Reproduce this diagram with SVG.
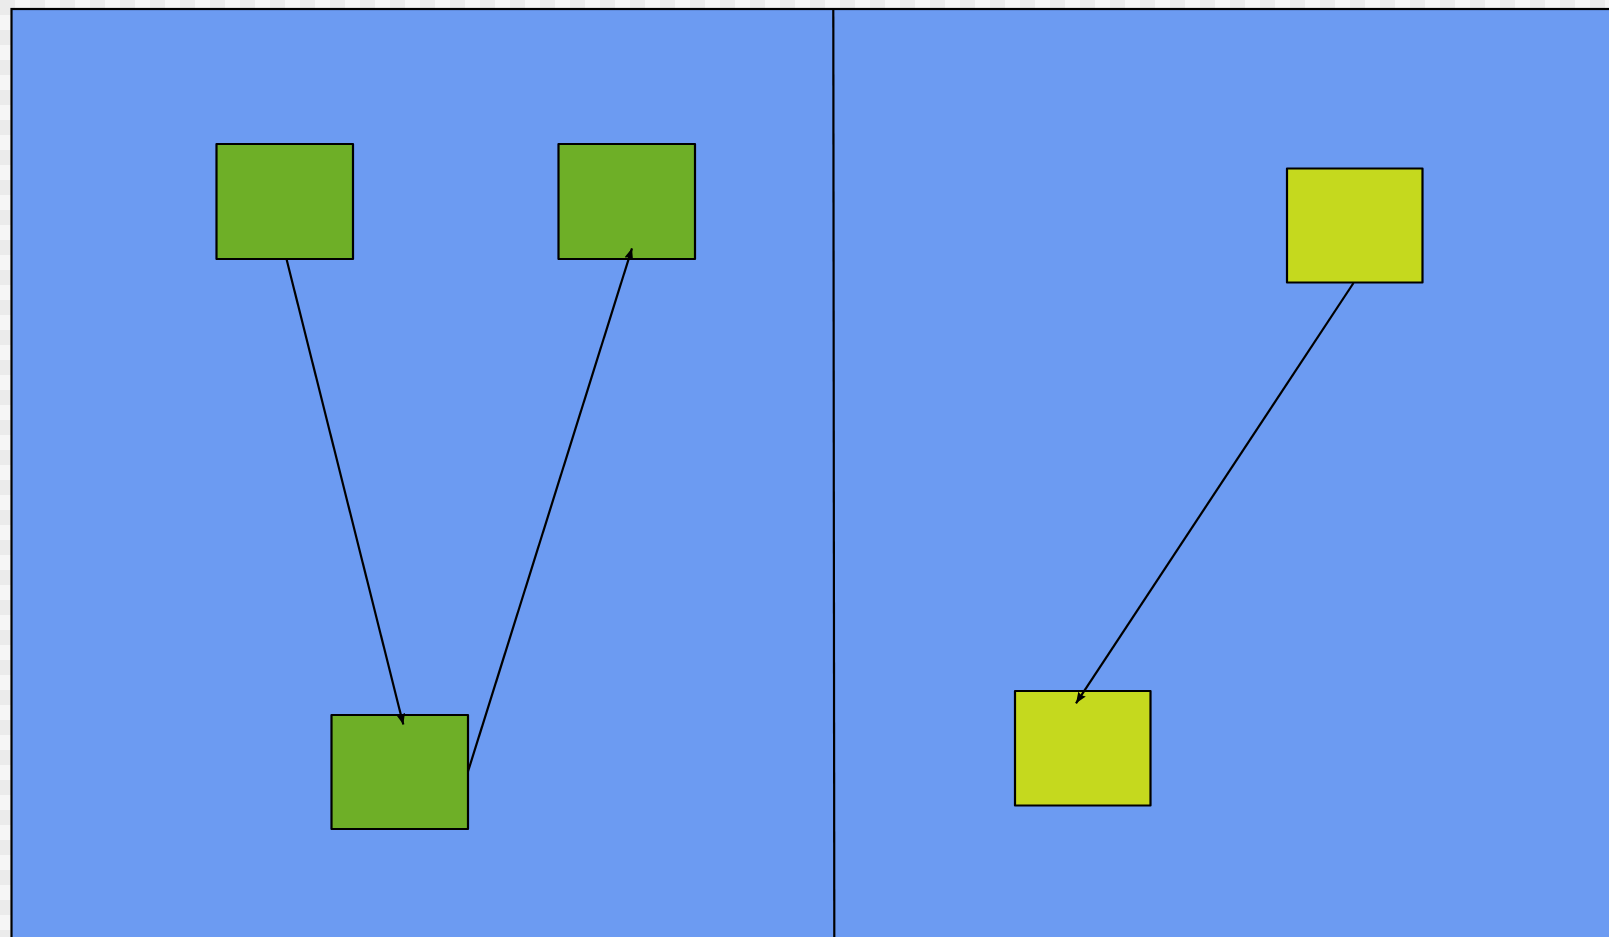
<svg xmlns="http://www.w3.org/2000/svg" width="1609" height="937" viewBox="0 0 1609 937">
<style>
.node rect{stroke:#000;stroke-width:2.2;stroke-linejoin:round}
.g{fill:#6EAF27}
.y{fill:#C5D91E}
.edge{stroke:#000;stroke-width:2.2;fill:none}
</style>
<defs>
<pattern id="chk" width="30" height="30" patternUnits="userSpaceOnUse">
<rect width="30" height="30" fill="#f6f6f6"/>
<rect width="15" height="15" fill="#ebebeb"/>
<rect x="15" y="15" width="15" height="15" fill="#ebebeb"/>
</pattern>
<marker id="arr" markerWidth="12" markerHeight="10" refX="11" refY="5" orient="auto" markerUnits="userSpaceOnUse">
<path d="M0,0.5 L11,5 L0,9.5 L1.5,5 Z" fill="#000"/>
</marker>
</defs>
<rect width="1609" height="937" fill="url(#chk)"/>
<g id="pool">
<rect x="11.5" y="9" width="1610" height="940" fill="#6C9BF2" stroke="#000" stroke-width="2.2"/>
<line x1="833.3" y1="9" x2="834.3" y2="940" stroke="#000" stroke-width="2.2"/>
</g>
<g id="n1" class="node"><rect class="g" x="216.5" y="144" width="136.5" height="115"/></g>
<g id="n2" class="node"><rect class="g" x="558.5" y="144" width="136.5" height="115"/></g>
<g id="n3" class="node"><rect class="g" x="331.5" y="715" width="136.5" height="114"/></g>
<g id="n4" class="node"><rect class="y" x="1287" y="168.5" width="135.5" height="114"/></g>
<g id="n5" class="node"><rect class="y" x="1015" y="691" width="135.5" height="114.5"/></g>
<g id="connectors">
<line class="edge" x1="286.5" y1="259" x2="403.3" y2="724.5" marker-end="url(#arr)"/>
<line class="edge" x1="468" y1="771.5" x2="632" y2="248.3" marker-end="url(#arr)"/>
<line class="edge" x1="1353.5" y1="283" x2="1076" y2="703.3" marker-end="url(#arr)"/>
</g>
</svg>
